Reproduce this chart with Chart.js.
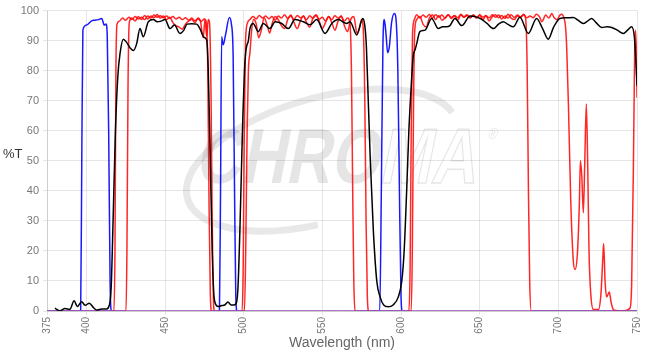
<!DOCTYPE html>
<html>
<head>
<meta charset="utf-8">
<script src="https://cdn.jsdelivr.net/npm/chart.js@4/dist/chart.umd.min.js"></script>
<style>
  html, body { margin: 0; padding: 0; background: #fff; }
  #wrap { position: relative; width: 652px; height: 354px; }
</style>
</head>
<body>
<div id="wrap"><canvas id="specChart" width="652" height="354"></canvas></div>
<script>
// tick labels
const xTicks = [375, 400, 450, 500, 550, 600, 650, 700, 750];

// blue trace
const blueNm = [375, 396.4, 397.1, 397.8, 400.2, 403.4, 405.5, 407.6, 409.8, 411.4, 412.5, 413.3, 414.2, 415.1, 416, 484.6, 485.3, 486, 487, 488.5, 490.9, 492.2, 493.3, 494.2, 495, 495.8, 586.5, 587.5, 588.5, 589.4, 590.5, 591.5, 592.6, 594, 595.8, 597, 598, 599, 600, 600.8, 750];
const blueT = [0, 0, 50, 93.5, 95.2, 96.6, 96.8, 97, 97.4, 95.2, 95.5, 91.4, 60, 10, 0, 0, 40, 91.3, 88.6, 92, 97.7, 95.5, 85, 40, 5, 0, 0, 40, 88, 97, 92, 86, 88, 96, 99, 96, 80, 40, 5, 0, 0];

// red trace A
const redANm = [375, 417.5, 418.2, 418.8, 419.5, 421, 423, 425, 427, 429, 431, 433, 435, 437, 439, 441, 443, 445, 447, 449, 451, 453, 455, 457, 459, 461, 463, 465, 467, 469, 471, 473, 475, 476.3, 477.2, 478, 478.8, 479.6,
  499, 499.7, 500.4, 501.2, 502.5, 504, 506, 508, 510, 512, 514, 516, 518, 520, 522, 524, 526, 528, 530, 532, 534, 536, 538, 540, 542, 544, 546, 548, 550, 552, 554, 556, 558, 560, 562, 564, 566, 567.5, 568.5, 569.3, 570, 570.8,
  605, 605.8, 606.5, 607.3, 608.5, 610, 612, 614, 616, 618, 620, 622, 624, 626, 628, 630, 632, 634, 636, 638, 640, 642, 644, 646, 648, 650, 652, 654, 656, 658, 660, 662, 664, 666, 668, 670, 672, 674, 676, 678, 679.3, 680.2, 681, 681.8, 682.8, 750];
const redAT = [0, 0, 20, 80, 95.5, 96.5, 97.5, 96.8, 97.8, 97, 98, 97.2, 97.8, 97, 98.2, 97.5, 98.5, 97.8, 98.3, 97.6, 98.2, 97.4, 98, 97.2, 97.8, 97, 97.6, 96.8, 97.5, 96.6, 97.3, 96.4, 97.2, 96, 80, 35, 6, 0,
  0, 15, 60, 90, 96, 97, 98, 97.2, 98.4, 97.5, 98.2, 97.3, 98, 96.8, 98.2, 97.5, 98.6, 97.4, 98.2, 97, 98.4, 97.6, 98, 97, 98.3, 97.4, 98.4, 97.1, 97.8, 96.6, 98, 97, 98.3, 97.5, 98, 96.5, 97.5, 96, 80, 40, 10, 0,
  0, 15, 60, 92, 97, 98.6, 97.5, 98.5, 97.8, 98.7, 97.6, 98.6, 97.8, 98.5, 97.5, 98.6, 97.7, 98.4, 97.6, 98.8, 97.9, 98.6, 97.7, 98.4, 97.5, 98.6, 97.8, 98.4, 96.5, 98, 98.6, 97.6, 98.4, 97.4, 98.8, 97.5, 97, 98.2, 97.8, 98.8, 97, 80, 40, 10, 0, 0];

// red trace B
const redBNm = [375, 425.2, 425.8, 426.5, 427.3, 429, 431, 433, 435, 437, 439, 441, 443, 445, 447, 449, 451, 453, 455, 457, 459, 461, 463, 465, 467, 469, 471, 472.5, 474.3, 475.4, 476.5, 477.5, 478.3, 479.3, 480, 480.7, 481.5,
  500.5, 501.3, 502.2, 503, 504, 505, 506.3, 508, 509.5, 511, 513, 515, 516.5, 518, 520, 522, 524, 526, 528, 530, 532, 534, 536, 538, 540, 542, 544, 546, 548, 550, 552, 554, 556, 558, 560, 562, 564, 566, 568, 570, 572, 573.5, 575, 576, 577, 577.8, 578.6, 579.5,
  606.5, 607.2, 608, 608.7, 610, 612, 614, 616, 618, 620, 622, 624, 626, 628, 630, 632, 634, 636, 638, 640, 642, 644, 646, 648, 650, 652, 654, 656, 658, 660, 662, 664, 666, 668, 670, 672, 674, 676, 678, 680, 682, 684, 686, 688, 689.5, 692, 694, 695.8, 697.5, 699, 701, 702.1, 703.6, 704.5,
  705.3, 706.4, 707.9, 709.5, 710.6, 712.1, 713.4, 714, 714.9, 715.9, 716.8, 717.8, 718.7, 719.5, 720.6, 722.3, 725.5, 727.1, 728.2, 728.8, 729.7, 730.7, 732.4, 733.5, 735, 738, 742, 745.6, 746.6, 747.7, 748.5, 749, 749.6, 750];
const redBT = [0, 0, 20, 75, 96, 97.5, 96.5, 98, 97, 98.4, 97.2, 98.2, 97.6, 98.7, 97.5, 98.2, 97, 97.8, 96, 95, 94.5, 93.8, 95.5, 96.5, 97, 96, 97.5, 96.5, 91, 97, 91.5, 97, 96, 70, 30, 5, 0,
  0, 20, 60, 80, 86, 93, 97, 95.5, 91, 93, 97.5, 95, 92.5, 95.5, 98, 97, 95, 94, 97, 98.5, 96, 94, 96.5, 98.3, 96, 94.5, 97.5, 98.6, 96.5, 94, 96, 98, 96, 93.5, 96.5, 98.3, 95, 93, 97, 98, 92.5, 94, 97, 94, 70, 30, 5, 0,
  0, 20, 70, 93, 97, 98, 95.5, 94.5, 97.5, 98.6, 97, 98.4, 96.8, 97.5, 98.6, 97.4, 98.2, 96.8, 98.5, 97.8, 98.4, 97.5, 98.6, 97.6, 98.4, 97, 98.2, 97.6, 98.6, 97.8, 98.5, 97.2, 98.2, 97.5, 98.6, 97.7, 98.5, 97.9, 98.6, 97.6, 98.2, 97.6, 98.8, 98, 96.3, 98.5, 97.5, 99, 97.5, 97, 98.5, 98.8, 97.5, 95,
  88, 69, 36.5, 16.8, 13.8, 19, 36.5, 50, 45, 32.7, 49.7, 68.9, 47.5, 20, 5.8, 0.5, 0.5, 5.8, 16.8, 22.5, 10, 4.7, 6.3, 3, 0.5, 0.1, 0.1, 1, 9, 47.5, 85.9, 93.5, 85.9, 71];

// black trace
const blackNm = [380, 383.3, 386.4, 389.6, 392.2, 394.3, 397, 399.2, 401.9, 404.4, 406.6, 409.8, 412.9, 414.6, 415.8, 417, 418.5, 420, 421.5, 423.5, 425.5, 428, 430, 432, 434.1, 436.2, 439.4, 442.6, 445, 447.5, 450, 453.2, 456, 459.5, 462, 464, 467, 470.1, 472.2, 474.8, 476.5, 477.5, 478.6, 480, 481, 482, 484, 486, 488, 490, 492, 494, 495.5, 496.4, 497.5, 498.5, 499.5, 500.5, 501.5, 503,
  504, 506, 509.3, 512.5, 516.7, 520, 524.2, 528.4, 532.6, 537.9, 542.2, 546.4, 551.7, 556, 560.2, 565.5, 567.6, 571.9, 575.7, 577, 578, 579.2, 580.5, 582.4, 584.6, 586.7, 589, 591.9, 595, 598.3, 600.5, 602, 603.6, 605, 606.5, 607.8, 609, 610, 612,
  615.3, 619.5, 623.7, 626.5, 629, 631.1, 634.3, 638.6, 643.9, 650.2, 654.5, 658.7, 662, 665, 668, 671.4, 675.6, 680.9, 686.2, 690, 693.6, 697, 701, 705, 709.5, 712.5, 715.9, 718.5, 721.2, 724, 727.5, 731, 733.9, 737.5, 741.3, 744, 746.6, 748.3, 749.2, 750];
const blackT = [0.9, 0.1, 0.8, 0.6, 3.4, 1.5, 3.1, 1.9, 2.6, 1.2, 0.3, 0.7, 0.7, 1.9, 8, 30, 60, 78, 86, 90.5, 89.5, 87.5, 86.7, 89, 94, 91.3, 96.3, 97, 96.3, 96.5, 97, 94, 95.2, 92.4, 93.5, 95.5, 95.6, 95.5, 94, 91.1, 90.2, 80, 55, 20, 6, 2.5, 1.5, 1.8, 2, 3, 2, 2, 3, 8, 25, 45, 65, 80, 87, 90,
  94, 95.7, 93, 95.7, 94, 96.3, 95.7, 94, 97, 96.3, 95.3, 97, 92.4, 95.7, 97, 95.7, 96.3, 91.9, 97.4, 95, 88, 70, 50, 27, 10, 4.7, 2, 1.4, 2, 4.7, 10, 20, 40, 60, 75, 85, 87, 89, 93,
  93.5, 97.4, 94, 94.6, 94.6, 95, 97.4, 95, 98.2, 97.4, 95.8, 94, 95.5, 96.3, 95.4, 94.6, 97.8, 92.4, 97.4, 94, 90.5, 94.5, 97.4, 97.6, 97.7, 96.8, 95.7, 96.5, 97.4, 96, 94.4, 94.6, 94.4, 93.5, 92.4, 93.5, 94.6, 91.3, 84, 75];

function toPoints(nm, t) {
    return nm.map((x, i) => ({ x: x, y: t[i] }));
}

// where blue and red both lie on zero they blend to purple
const BASELINE = 'rgb(150,76,186)';
const onBaseline = (c) => (c.p0.parsed.y === 0 && c.p1.parsed.y === 0) ? BASELINE : undefined;

// logo in the background
const watermark = {
    id: 'watermark',
    beforeDatasetsDraw(chart) {
        const ctx = chart.ctx;
        ctx.save();
        ctx.strokeStyle = 'rgba(0,0,0,0.09)';
        ctx.lineWidth = 7;
        ctx.beginPath();
        ctx.ellipse(322, 160, 140, 62, -0.28, 0.55 * Math.PI, 1.95 * Math.PI);
        ctx.stroke();
        ctx.translate(335, 183);
        ctx.transform(1, 0, -0.2, 1, 0, 0);
        ctx.scale(0.8, 1);
        ctx.font = 'bold 78px "Liberation Sans", Arial, sans-serif';
        ctx.textBaseline = 'alphabetic';
        const left = 'CHRO', right = 'MA';
        const wl = ctx.measureText(left).width, wr = ctx.measureText(right).width;
        const x0 = -(wl + wr) / 2;
        ctx.fillStyle = 'rgba(0,0,0,0.1)';
        ctx.fillText(left, x0, 0);
        ctx.strokeStyle = 'rgba(0,0,0,0.1)';
        ctx.lineWidth = 1.5;
        ctx.strokeText(right, x0 + wl, 0);
        ctx.font = '16px "Liberation Sans", Arial, sans-serif';
        ctx.fillText('®', x0 + wl + wr + 4, -44);
        ctx.restore();
    }
};

// y axis label, written horizontally
const yLabel = {
    id: 'yLabel',
    afterDraw(chart) {
        const ctx = chart.ctx;
        ctx.save();
        ctx.fillStyle = '#333';
        ctx.font = '13px "Liberation Sans", Arial, sans-serif';
        ctx.textBaseline = 'middle';
        ctx.fillText('%T', 3, 154);
        ctx.restore();
    }
};

const line = (label, pts, color, order, baseline) => ({
    label: label,
    data: pts,
    borderColor: color,
    borderWidth: 1.5,
    pointRadius: 0,
    fill: false,
    cubicInterpolationMode: 'monotone',
    order: order,
    segment: baseline ? { borderColor: onBaseline } : {}
});

const ctx = document.getElementById('specChart').getContext('2d');
const specChart = new Chart(ctx, {
    type: 'line',
    data: {
        datasets: [
            line('Black', toPoints(blackNm, blackT), '#000', 0, false),
            line('Red A', toPoints(redANm, redAT), 'rgba(255,0,0,0.85)', 1, true),
            line('Red B', toPoints(redBNm, redBT), 'rgba(255,0,0,0.85)', 2, true),
            line('Blue', toPoints(blueNm, blueT), 'rgba(0,0,255,0.9)', 3, true)
        ]
    },
    options: {
        responsive: false,
        animation: false,
        layout: { padding: { top: 7, right: 15, left: 0, bottom: 0 } },
        plugins: {
            legend: { display: false },
            tooltip: { enabled: false }
        },
        scales: {
            x: {
                type: 'linear',
                min: 375,
                max: 750,
                afterBuildTicks: (scale) => { scale.ticks = xTicks.map(v => ({ value: v })); },
                afterFit: (scale) => { scale.height = 43; },
                grid: { color: 'rgba(0,0,0,0.1)', tickLength: 4 },
                border: { color: 'rgba(0,0,0,0.1)' },
                ticks: {
                    color: '#777',
                    font: { size: 10, family: '"Liberation Sans", Arial, sans-serif' },
                    minRotation: 90,
                    maxRotation: 90,
                    autoSkip: false,
                    padding: 2
                },
                title: {
                    display: true,
                    text: 'Wavelength (nm)',
                    color: '#666',
                    font: { size: 14, family: '"Liberation Sans", Arial, sans-serif' },
                    padding: { top: 0, bottom: 2 }
                }
            },
            y: {
                min: 0,
                max: 100,
                afterFit: (scale) => { scale.width = 47; },
                grid: { color: 'rgba(0,0,0,0.1)', tickLength: 4 },
                border: { color: 'rgba(0,0,0,0.1)' },
                ticks: {
                    stepSize: 10,
                    color: '#777',
                    font: { size: 11, family: '"Liberation Sans", Arial, sans-serif' },
                    padding: 4
                }
            }
        }
    },
    plugins: [watermark, yLabel]
});
</script>
</body>
</html>
